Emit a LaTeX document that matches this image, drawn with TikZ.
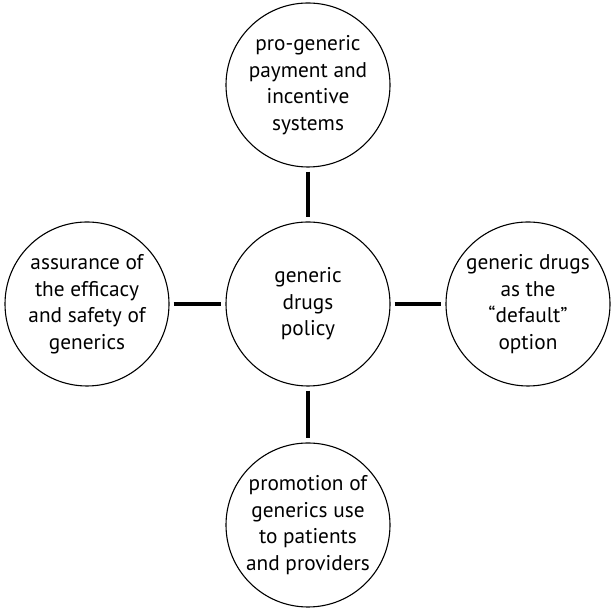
\documentclass[tikz,border=0pt]{standalone}
\usepackage{fontspec}
\setmainfont{PT Sans}
\begin{document}
\begin{tikzpicture}[x=1pt,y=1pt,
  bubble/.style={circle,draw,line width=1.1pt,minimum size=164pt,inner sep=0pt,align=center,
    font=\fontsize{21.3}{26.5}\selectfont},
  link/.style={line width=4.8pt,shorten <=4pt,shorten >=4pt}]
\useasboundingbox (0,0) rectangle (613,609);
\node[bubble] (c) at (308,305) {generic\\drugs\\policy};
\node[bubble] (t) at (308,524) {pro-generic\\payment and\\incentive\\systems};
\node[bubble] (b) at (308,84) {promotion of\\generics use\\to patients\\and providers};
\node[bubble] (l) at (87,305) {assurance of\\the efficacy\\and safety of\\generics};
\node[bubble] (r) at (528,305) {generic drugs\\as the\\``default''\\option};
\draw[link] (t.south) -- (c.north);
\draw[link] (c.south) -- (b.north);
\draw[link] (l.east) -- (c.west);
\draw[link] (c.east) -- (r.west);
\end{tikzpicture}
\end{document}
